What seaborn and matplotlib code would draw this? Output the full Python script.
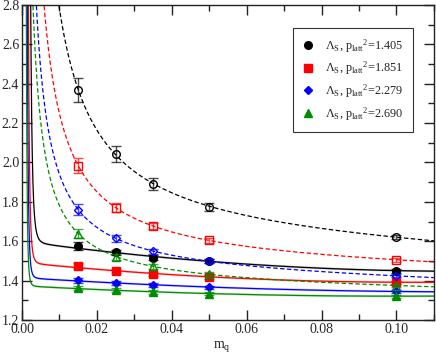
import numpy as np
import pandas as pd
import matplotlib
matplotlib.use('Agg')
import matplotlib.pyplot as plt
from matplotlib.lines import Line2D
import seaborn as sns

# ── data ─────────────────────────────────────────────────────────
mq      = [0.015, 0.025, 0.035, 0.05, 0.10]
p2_lbls = ['1.405', '1.851', '2.279', '2.690']
colors  = ['black', '#ff0000', '#0000ff', '#008c00']
markers = ['o', 's', 'D', '^']

# filled symbols (solid fits)
lam_filled = [[1.575, 1.543, 1.516, 1.499, 1.451],
              [1.473, 1.451, 1.433, 1.419, 1.392],
              [1.402, 1.389, 1.377, 1.367, 1.345],
              [1.362, 1.350, 1.343, 1.334, 1.321]]
err_filled = [[0.022, 0.015, 0.012, 0.010, 0.010],
              [0.014, 0.010, 0.010, 0.009, 0.008],
              [0.012, 0.010, 0.009, 0.008, 0.008],
              [0.011, 0.010, 0.009, 0.008, 0.008]]

# open symbols (dashed fits)
lam_open = [[2.369, 2.044, 1.891, 1.776, 1.621],
            [1.984, 1.771, 1.677, 1.604, 1.506],
            [1.761, 1.614, 1.550, 1.499, 1.424],
            [1.639, 1.522, 1.472, 1.433, 1.375]]
err_open = [[0.060, 0.042, 0.030, 0.020, 0.012],
            [0.038, 0.022, 0.016, 0.011, 0.010],
            [0.026, 0.016, 0.013, 0.010, 0.008],
            [0.025, 0.015, 0.011, 0.009, 0.008]]

# solid fits: plateau level read at m = 0.006, and the steep rise below it
# (excess over the plateau read at pole_m)
plateau_m   = 0.006
plateau_val = [1.578, 1.476, 1.405, 1.366]
pole_m      = [0.0027, 0.00195, 0.0016, 0.0013]
pole_excess = [0.486, 0.59, 0.66, 0.70]
pole_pow    = 6

# ── style ────────────────────────────────────────────────────────
sns.set_theme(style='ticks')
plt.rcParams['font.family'] = ['Liberation Serif', 'DejaVu Serif']
plt.rcParams['mathtext.fontset'] = 'custom'
plt.rcParams['mathtext.rm'] = 'Liberation Serif'
plt.rcParams['mathtext.it'] = 'Liberation Serif:italic'

fig = plt.figure(figsize=(4.36, 3.53), dpi=100)
ax = fig.add_axes([0.0505, 0.0935, 0.9445, 0.8925])

m_all = np.asarray(mq)
m_grid = np.linspace(0.0008, 0.11, 3000)
handles, labels = [], []

for i in range(4):
    c = colors[i]
    yf = np.asarray(lam_filled[i])
    yo = np.asarray(lam_open[i])
    ms = 4.5 if markers[i] == 'D' else 5.5

    # solid fit: quadratic in m through plateau + filled points, plus pole
    mm = np.append(plateau_m, m_all)
    yy = np.append(plateau_val[i], yf)
    A = np.vstack([mm**k for k in range(3)]).T
    cf = np.linalg.lstsq(A, yy, rcond=None)[0]
    y_sol = (sum(cf[k] * m_grid**k for k in range(3))
             + pole_excess[i] * (pole_m[i] / m_grid)**pole_pow)
    # dashed fit: a + b/m + c*m from the open points
    B = np.vstack([np.ones_like(m_all), 1/m_all, m_all]).T
    co = np.linalg.lstsq(B, yo, rcond=None)[0]
    y_dash = co[0] + co[1]/m_grid + co[2]*m_grid

    df = pd.DataFrame({'m': m_grid, 'solid': np.minimum(y_sol, 4),
                       'dash': np.minimum(y_dash, 4)})
    ax.fill_between(df['m'], df['solid'] - 0.006, df['solid'] + 0.006,
                    color=c, alpha=0.2, lw=0)
    sns.lineplot(data=df, x='m', y='solid', color=c, lw=0.9, ax=ax,
                 estimator=None, sort=False)
    sns.lineplot(data=df, x='m', y='dash', color=c, lw=0.9, ax=ax,
                 estimator=None, sort=False, linestyle=(0, (3.5, 2)))

    eb = ax.errorbar(mq, lam_filled[i], yerr=err_filled[i], fmt=markers[i],
                     color=c, ms=ms, ecolor=c, elinewidth=1.0, capsize=3.5,
                     capthick=1.0, zorder=4)
    for ln in eb[1] + eb[2]:
        ln.set_alpha(0.75)
    eb = ax.errorbar(mq, lam_open[i], yerr=err_open[i], fmt=markers[i],
                     mfc='none', mec=c, color=c, ms=ms, ecolor=c,
                     elinewidth=1.0, capsize=3.5, capthick=1.0, zorder=5)
    for ln in eb[1] + eb[2]:
        ln.set_alpha(0.7)

    handles.append(Line2D([], [], ls='none', marker=markers[i], color=c,
                          ms=ms))
    labels.append('Λ$_{\\rm S}$, p$_{\\rm latt}$$^{\\rm 2}$=' + p2_lbls[i])

ax.set_xlim(0, 0.11)
ax.set_ylim(1.2, 2.8)
ax.set_xticks(np.arange(0, 0.101, 0.02))
ax.set_xticks(np.arange(0, 0.111, 0.01), minor=True)
ax.set_xticklabels([f'{v:.2f}' for v in np.arange(0, 0.101, 0.02)])
ax.set_yticks(np.arange(1.2, 2.81, 0.2))
ax.set_yticks(np.arange(1.2, 2.81, 0.1), minor=True)
ax.set_yticklabels([f'{v:.1f}' for v in np.arange(1.2, 2.81, 0.2)])
ax.tick_params(which='both', direction='in', top=True, right=True,
               labelsize=10, pad=2, color='#222222')
ax.tick_params(which='major', length=7, width=1)
ax.tick_params(which='minor', length=4, width=1)
for s in ax.spines.values():
    s.set_linewidth(1.0)
    s.set_color('#222222')
ax.set_xlabel('m$_{\\rm q}$', fontsize=10, labelpad=2)
ax.xaxis.set_label_coords(0.485, -0.06)
ax.set_ylabel('')

leg = ax.legend(handles, labels, loc='upper right',
                bbox_to_anchor=(0.949, 0.927), fontsize=8.8, frameon=True,
                fancybox=False, edgecolor='black', handletextpad=0.9,
                borderpad=0.75, labelspacing=0.42, handlelength=1.0,
                borderaxespad=0)
leg.get_frame().set_linewidth(0.8)

fig.savefig('out.png', dpi=100)
